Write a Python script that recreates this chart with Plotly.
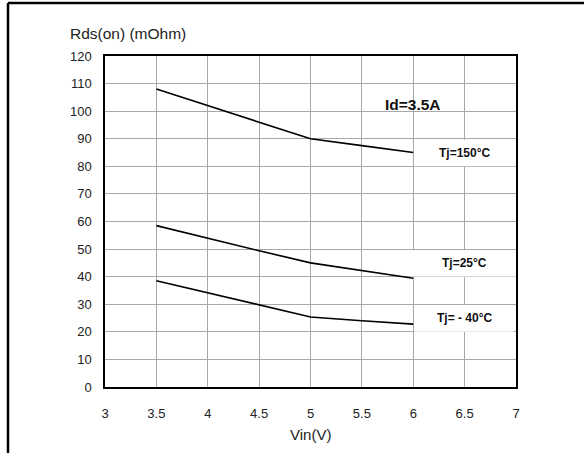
import plotly.graph_objects as go

# Rds(on) vs Vin at Id=3.5A
vin = [3.5, 4, 4.5, 5, 5.5, 6]
rds_150 = [108, 102, 96, 90, 87.5, 85]
rds_25 = [58.5, 53.9, 49.4, 45, 42.2, 39.4]
rds_m40 = [38.5, 34.2, 29.8, 25.4, 24.0, 22.8]

labels = ["Tj=150°C", "Tj=25°C", "Tj= - 40°C"]
label_y = [85, 45, 25]

FONT = "Liberation Sans, Arial, sans-serif"

fig = go.Figure()
for ys in (rds_150, rds_25, rds_m40):
    fig.add_trace(go.Scatter(x=vin, y=ys, mode="lines",
                             line=dict(color="black", width=1.6),
                             showlegend=False, hoverinfo="skip"))

# white label boxes that cover the grid
boxes = [(6.01, 6.98, 80.0, 89.6), (5.97, 7.2, 40.1, 49.6), (6.01, 6.98, 20.0, 29.6)]
for x0, x1, y0, y1 in boxes:
    fig.add_shape(type="rect", xref="x", yref="y", x0=x0, x1=x1, y0=y0, y1=y1,
                  fillcolor="white", line=dict(width=0), layer="above")

for txt, yv in zip(labels, label_y):
    fig.add_annotation(x=6.5, y=yv, text="<b>" + txt + "</b>", showarrow=False,
                       font=dict(family=FONT, size=12, color="#111"))

fig.add_annotation(x=6.0, y=102.5, text="<b>Id=3.5A</b>", showarrow=False,
                   font=dict(family=FONT, size=15.5, color="#111"))

fig.add_annotation(xref="paper", yref="paper", x=-0.09, y=1.069, xanchor="left",
                   yanchor="middle", text="Rds(on) (mOhm)", showarrow=False,
                   font=dict(family=FONT, size=15.5, color="#222"))
fig.add_annotation(xref="paper", yref="paper", x=0.5, y=-0.145, xanchor="center",
                   yanchor="middle", text="Vin(V)", showarrow=False,
                   font=dict(family=FONT, size=15, color="#222"))

# outer frame (top and left edges)
fig.add_shape(type="line", xref="paper", yref="paper", x0=-0.236, x1=1.2,
              y0=1.16, y1=1.16, line=dict(color="black", width=2.5))
fig.add_shape(type="line", xref="paper", yref="paper", x0=-0.236, x1=-0.236,
              y0=1.16, y1=-0.3, line=dict(color="black", width=2.5))

fig.update_layout(
    width=584, height=453,
    margin=dict(l=105, r=68, t=56, b=66),
    paper_bgcolor="white", plot_bgcolor="white",
    font=dict(family=FONT, size=12, color="#222"),
    xaxis=dict(range=[3, 7], dtick=0.5, tick0=3, showgrid=True,
               gridcolor="#a8a8a8", gridwidth=1, showline=True,
               linecolor="black", linewidth=1.5, mirror=True,
               ticks="", ticklabelstandoff=14, zeroline=False,
               tickfont=dict(size=13)),
    yaxis=dict(range=[0, 120], dtick=10, showgrid=True,
               gridcolor="#a8a8a8", gridwidth=1, showline=True,
               linecolor="black", linewidth=1.5, mirror=True,
               ticks="", ticklabelstandoff=9, zeroline=False,
               tickfont=dict(size=13)),
)

# page body has a default 8px margin; remove it so the chart sits at 0,0
fig.write_html("out.html", config={"displayModeBar": False},
               post_script="document.body.style.margin='0';document.body.style.overflow='hidden';")
